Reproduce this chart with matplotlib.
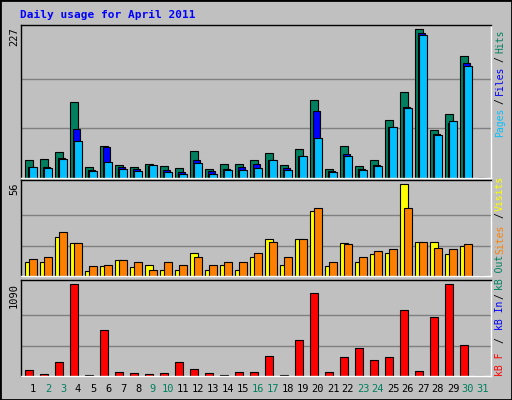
import matplotlib
matplotlib.use("Agg")
import matplotlib.pyplot as plt
from matplotlib.patches import Rectangle

days = list(range(1, 32))
hits  = [27,28,39,115,16,48,19,16,21,17,14,41,13,21,21,27,37,19,44,119,13,48,17,27,88,131,227,73,98,186,0]
files = [16,16,30,74,12,46,16,13,18,11,9,27,10,13,16,21,27,14,33,102,10,36,13,19,78,108,221,67,83,176,0]
pages = [16,14,29,56,10,24,13,10,19,8,5,22,6,11,11,14,27,11,33,61,8,33,11,17,78,107,219,65,87,171,0]
visits = [9,9,24,20,3,6,10,5.5,7,4,4,14,4,7,4,12,22.5,7,23,39.6,6,20,9,13.4,14,56,21,21,13.4,18.3,0]
sites  = [10.3,11.6,27,20,6,7,10,8.5,4,9,7,11.6,7,9,9,14,21,12,22.5,41.4,9,19.5,12,15.2,16.4,41.4,21,17,16.4,19.5,0]
kbytes = [76,28,171,1090,16,553,52,40,28,40,171,88,40,16,52,52,243,16,434,983,52,231,338,195,231,780,64,708,1090,374,0]
weekend = {2,3,9,10,16,17,23,24,30,31}

BG = "#C0C0C0"
fig = plt.figure(figsize=(5.12, 4.0), dpi=100, facecolor=BG)
fig.patches.append(Rectangle((0, 0), 1, 1, transform=fig.transFigure, fill=False,
                             edgecolor="black", lw=2))
mono = "DejaVu Sans Mono"
SLOT = 15.0

def mkax(top_px, bot_px, ytop):
    ax = fig.add_axes([21/512, 1-bot_px/400, 470/512, (bot_px-top_px)/400])
    ax.set_facecolor(BG)
    ax.set_xlim(0, 470/SLOT)
    ax.set_ylim(0, ytop)
    ax.set_xticks([]); ax.set_yticks([])
    for s in ax.spines.values():
        s.set_color("black"); s.set_linewidth(1)
    ax.spines['bottom'].set_color("white"); ax.spines['right'].set_color("white")
    return ax

x = [d-1 for d in days]
ax1 = mkax(25, 177.5, 227*152.5/148.2)
for g in (227/3, 227*2/3):
    ax1.axhline(g, color="#808080", lw=1, zorder=0)
kw = dict(align='edge', width=0.49, edgecolor='black', lw=0.8)
ax1.bar([i+0.29 for i in x], hits, color="#00805F", **kw)
ax1.bar([i+0.44 for i in x], files, color="#0000FF", **kw)
ax1.bar([i+0.56 for i in x], pages, color="#00C0FF", **kw)

ax2 = mkax(180, 276.3, 56*96.3/92)
for g in (56/3, 56*2/3):
    ax2.axhline(g, color="#808080", lw=1, zorder=0)
ax2.bar([i+0.29 for i in x], visits, color="#FFFF00", **kw)
ax2.bar([i+0.56 for i in x], sites, color="#FF8000", **kw)

ax3 = mkax(280.3, 376.3, 1090*96/92)
for g in (1090/3, 1090*2/3):
    ax3.axhline(g, color="#808080", lw=1, zorder=0)
ax3.bar([i+0.29 for i in x], kbytes, color="#FF0000", **kw)

for d in days:
    fig.text((33 + (d-1)*SLOT)/512, 1-389/400, str(d), ha='center', va='center',
             family=mono, fontsize=7.5, color="#00805F" if d in weekend else "black")

fig.text(20/512, 1-15/400, "Daily usage for April 2011", family=mono, fontweight='bold',
         fontsize=8, color="#0000FF", ha='left', va='center')

for lbl, ytop in (("227", 27), ("56", 182), ("1090", 283)):
    fig.text(14/512, 1-ytop/400, lbl, rotation=90, ha='center', va='top', family=mono, fontsize=7.5)

right = [("Hits", 41, "#00805F"), ("/", 59, "black"), ("Files", 80, "#0000FF"),
         ("/", 101, "black"), ("Pages", 122, "#00C0FF"),
         ("Visits", 193, "#FFFF00"), ("/", 215, "black"), ("Sites", 239, "#FF8000"),
         ("kB Out", 272, "#00805F"), ("/", 296, "black"), ("kB In", 315, "#0000FF"),
         ("/", 340, "black"), ("kB F", 364, "#FF0000")]
for t, y, c in right:
    fig.text(500/512, 1-y/400, t, rotation=90, ha='center', va='center', family=mono,
             fontsize=7, color=c)

fig.savefig("out.png", dpi=100, facecolor=BG)
